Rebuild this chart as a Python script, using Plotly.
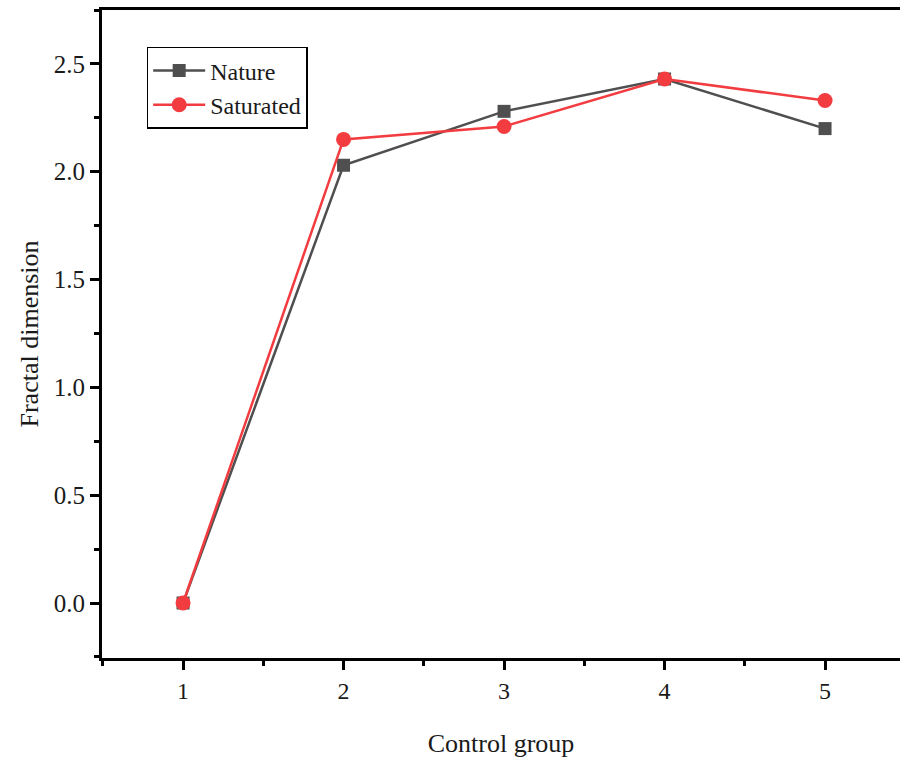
import plotly.graph_objects as go

groups = [1, 2, 3, 4, 5]
nature = [0.0, 2.03, 2.28, 2.43, 2.20]
saturated = [0.0, 2.15, 2.21, 2.43, 2.33]
x_ticks = [1, 2, 3, 4, 5]
y_ticks = [0.0, 0.5, 1.0, 1.5, 2.0, 2.5]
y_tick_labels = ["0.0", "0.5", "1.0", "1.5", "2.0", "2.5"]

font = "Liberation Serif, Times New Roman, serif"
txt = "#1a1a1a"

fig = go.Figure()
fig.add_trace(go.Scatter(
    x=groups, y=nature, name="Nature", mode="lines+markers",
    line=dict(color="#4f4f4f", width=2.5),
    marker=dict(symbol="square", size=13, color="#4f4f4f"),
))
fig.add_trace(go.Scatter(
    x=groups, y=saturated, name="Saturated", mode="lines+markers",
    line=dict(color="#f23c40", width=2.5),
    marker=dict(symbol="circle", size=15, color="#f23c40"),
))

fig.update_layout(
    width=900, height=760,
    margin=dict(l=102, r=0, t=10, b=102),
    paper_bgcolor="white", plot_bgcolor="white",
    font=dict(family=font, size=22, color=txt),
    showlegend=True,
    legend=dict(
        x=0.056, y=0.943, xanchor="left", yanchor="top",
        bordercolor="black", borderwidth=1.5, bgcolor="white",
        font=dict(family=font, size=24, color=txt),
        tracegroupgap=0, itemwidth=52,
    ),
    xaxis=dict(
        range=[0.495, 5.467], tickvals=x_ticks, ticktext=[str(v) for v in x_ticks],
        showgrid=False, zeroline=False,
        showline=True, linecolor="black", linewidth=3, mirror=True,
        ticks="outside", ticklen=9, tickwidth=3, tickcolor="black",
        minor=dict(dtick=0.5, tick0=0.5, ticks="outside", ticklen=5, tickwidth=3, tickcolor="black"),
        tickfont=dict(family=font, size=24, color=txt),
        title=dict(text="Control group", font=dict(family=font, size=26, color=txt), standoff=32),
    ),
    yaxis=dict(
        range=[-0.255, 2.75], tickvals=y_ticks, ticktext=y_tick_labels,
        showgrid=False, zeroline=False,
        showline=True, linecolor="black", linewidth=3, mirror=False,
        ticks="outside", ticklen=9, tickwidth=3, tickcolor="black",
        minor=dict(dtick=0.25, tick0=0, ticks="outside", ticklen=5, tickwidth=3, tickcolor="black"),
        tickfont=dict(family=font, size=25, color=txt),
        title=dict(text="Fractal dimension", font=dict(family=font, size=26, color=txt), standoff=8),
    ),
)

fig.write_html("out.html", config={"displayModeBar": False},
               post_script="document.body.style.margin='0';document.body.style.padding='0';")
